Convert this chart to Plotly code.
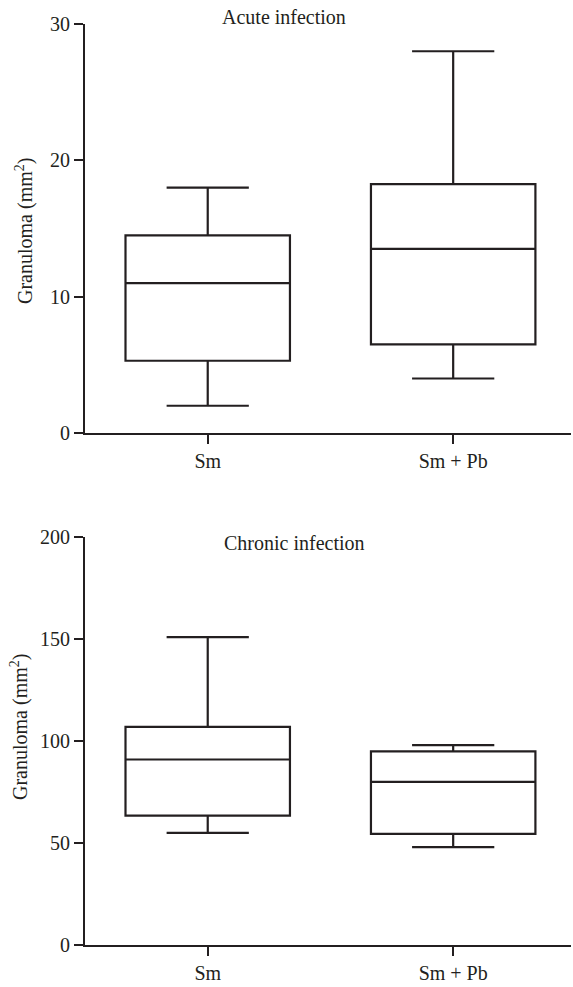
import plotly.graph_objects as go

categories = ["Sm", "Sm + Pb"]

# Acute infection (top panel)
acute_low = [2.0, 4.0]
acute_q1 = [5.3, 6.5]
acute_median = [11.0, 13.5]
acute_q3 = [14.5, 18.25]
acute_high = [18.0, 28.0]

# Chronic infection (bottom panel)
chronic_low = [55.0, 48.0]
chronic_q1 = [63.5, 54.5]
chronic_median = [91.0, 80.0]
chronic_q3 = [107.0, 95.0]
chronic_high = [151.0, 98.0]

acute_ticks = [0, 10, 20, 30]
chronic_ticks = [0, 50, 100, 150, 200]

INK = "#231f20"
FONT = "Liberation Serif"
FS = 20

fig = go.Figure()

def add_box(xa, ya, low, q1, med, q3, high):
    fig.add_trace(go.Box(
        x=categories, lowerfence=low, q1=q1, median=med, q3=q3, upperfence=high,
        xaxis=xa, yaxis=ya, width=0.67, whiskerwidth=0.5,
        line=dict(color=INK, width=2.2), fillcolor="rgba(0,0,0,0)",
        boxpoints=False, showlegend=False, hoverinfo="y",
    ))

add_box("x", "y", acute_low, acute_q1, acute_median, acute_q3, acute_high)
add_box("x2", "y2", chronic_low, chronic_q1, chronic_median, chronic_q3, chronic_high)

def axis_style():
    return dict(showline=True, linecolor=INK, linewidth=2.2, ticks="outside",
                ticklen=9, tickwidth=2.2, tickcolor=INK, showgrid=False, zeroline=False,
                tickfont=dict(size=FS, color=INK))

fig.update_layout(
    template="none",
    width=573, height=987,
    margin=dict(l=85, r=2, t=24, b=42),
    plot_bgcolor="white", paper_bgcolor="white",
    font=dict(family=FONT, color=INK, size=FS),
    xaxis=dict(domain=[0, 1], anchor="y", type="category", range=[-0.5, 1.48], **axis_style()),
    yaxis=dict(domain=[0.5559, 1.0], anchor="x", range=[0, 30], tickvals=acute_ticks, **axis_style()),
    xaxis2=dict(domain=[0, 1], anchor="y2", type="category", range=[-0.5, 1.48], **axis_style()),
    yaxis2=dict(domain=[0, 0.4427], anchor="x2", range=[0, 200], tickvals=chronic_ticks, **axis_style()),
)

plot_w = 573 - 85 - 2
plot_h = 987 - 24 - 42

def px2paper(px, py):
    return (px - 85) / plot_w, (987 - 42 - py) / plot_h

labels = [
    ("Acute infection", 284, 17, 0),
    ("Chronic infection", 294, 543, 0),
    ("Granuloma (mm<sup>2</sup>)", 24, 231, -90),
    ("Granuloma (mm<sup>2</sup>)", 19, 727, -90),
]
for text, px, py, ang in labels:
    x, y = px2paper(px, py)
    fig.add_annotation(text=text, x=x, y=y, xref="paper", yref="paper", showarrow=False,
                       xanchor="center", yanchor="middle", textangle=ang,
                       font=dict(family=FONT, size=FS, color=INK))

fig.write_html("out.html")
